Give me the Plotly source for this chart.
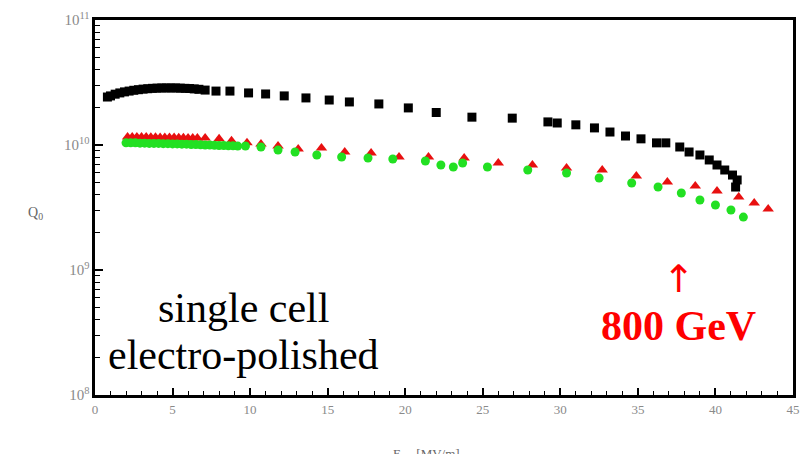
import plotly.graph_objects as go

# Black squares
black_x = [0.8, 1.0, 1.3, 1.6, 1.9, 2.2, 2.5, 2.8, 3.1, 3.4, 3.7, 4.0, 4.3, 4.6, 4.9, 5.2, 5.5, 5.8, 6.1, 6.4, 6.7,
           7.1, 7.8, 8.7, 9.9, 11.0, 12.2, 13.6, 15.1, 16.4, 18.3, 20.2, 22.0, 24.3, 26.9, 29.2, 29.8, 31.0,
           32.2, 33.2, 34.2, 35.2, 36.2, 36.8, 37.7, 38.3, 39.0, 39.6, 40.1, 40.6, 41.1, 41.4, 41.3]
black_y = [2.42e10, 2.47e10, 2.55e10, 2.61e10, 2.66e10, 2.70e10, 2.74e10, 2.77e10, 2.80e10, 2.82e10, 2.84e10,
           2.85e10, 2.86e10, 2.86e10, 2.86e10, 2.86e10, 2.85e10, 2.84e10, 2.83e10, 2.81e10, 2.79e10,
           2.75e10, 2.70e10, 2.70e10, 2.61e10, 2.56e10, 2.47e10, 2.38e10, 2.29e10, 2.21e10, 2.13e10, 1.98e10,
           1.82e10, 1.67e10, 1.64e10, 1.53e10, 1.50e10, 1.45e10, 1.37e10, 1.27e10, 1.18e10, 1.12e10, 1.04e10,
           1.04e10, 0.964e10, 0.879e10, 0.832e10, 0.759e10, 0.692e10, 0.631e10, 0.575e10, 0.525e10, 0.461e10]

# Red triangles
red_x = [2.1, 2.4, 2.7, 3.0, 3.3, 3.6, 3.9, 4.2, 4.5, 4.8, 5.1, 5.4, 5.7, 6.0, 6.3, 6.6,
         7.1, 8.0, 8.8, 9.8, 10.7, 11.8, 13.1, 14.6, 16.1, 17.8, 19.6, 21.5, 23.8, 26.0, 28.2, 30.4,
         32.7, 34.9, 36.9, 38.7, 40.1, 41.5, 42.5, 43.4]
red_y = [1.16e10, 1.16e10, 1.16e10, 1.16e10, 1.16e10, 1.155e10, 1.155e10, 1.15e10, 1.15e10, 1.15e10,
         1.15e10, 1.145e10, 1.145e10, 1.14e10, 1.14e10, 1.14e10,
         1.14e10, 1.12e10, 1.08e10, 1.04e10, 1.02e10, 0.982e10, 0.929e10, 0.946e10, 0.879e10, 0.863e10,
         0.802e10, 0.802e10, 0.787e10, 0.718e10, 0.692e10, 0.655e10, 0.631e10, 0.565e10, 0.506e10,
         0.470e10, 0.429e10, 0.384e10, 0.344e10, 0.308e10]

# Green circles
green_x = [2.0, 2.3, 2.6, 2.9, 3.2, 3.5, 3.8, 4.1, 4.4, 4.7, 5.0, 5.3, 5.6, 5.9, 6.2, 6.5, 6.8, 7.1, 7.4,
           7.7, 8.0, 8.3, 8.6, 8.9, 9.2,
           9.7, 10.7, 11.8, 12.9, 14.3, 15.9, 17.6, 19.2, 21.3, 22.3, 23.1, 23.7, 25.3, 27.9, 30.4, 32.5,
           34.6, 36.3, 37.8, 39.0, 40.0, 41.0, 41.8]
green_y = [1.04e10, 1.04e10, 1.04e10, 1.035e10, 1.035e10, 1.03e10, 1.03e10, 1.03e10, 1.025e10, 1.025e10,
           1.02e10, 1.02e10, 1.015e10, 1.015e10, 1.01e10, 1.01e10, 1.005e10, 1.0e10, 1.0e10, 0.995e10,
           0.99e10, 0.99e10, 0.985e10, 0.985e10, 0.98e10,
           0.982e10, 0.964e10, 0.912e10, 0.879e10, 0.832e10, 0.802e10, 0.787e10, 0.773e10, 0.745e10,
           0.692e10, 0.667e10, 0.718e10, 0.667e10, 0.631e10, 0.597e10, 0.545e10, 0.497e10, 0.461e10,
           0.413e10, 0.363e10, 0.331e10, 0.302e10, 0.265e10]

serif = "Liberation Serif"
gray = "#8a8a8a"

fig = go.Figure()
fig.add_trace(go.Scatter(x=red_x, y=red_y, mode="markers",
                         marker=dict(symbol="triangle-up", size=10, color="#e81010")))
fig.add_trace(go.Scatter(x=green_x, y=green_y, mode="markers",
                         marker=dict(symbol="circle", size=9, color="#22e022")))
fig.add_trace(go.Scatter(x=black_x, y=black_y, mode="markers",
                         marker=dict(symbol="square", size=9, color="#000000")))

fig.update_layout(
    width=807, height=454,
    margin=dict(l=95, r=7, t=20, b=59),
    paper_bgcolor="white", plot_bgcolor="white",
    showlegend=False,
    xaxis=dict(range=[0, 45], tick0=0, dtick=5, ticks="inside", ticklen=7, tickwidth=2, tickcolor="black",
               showline=True, linecolor="black", linewidth=3, mirror=True, showgrid=False, zeroline=False,
               tickfont=dict(family=serif, size=13, color=gray),
               minor=dict(dtick=1, ticks="inside", ticklen=4, tickwidth=1, tickcolor="black", showgrid=False)),
    yaxis=dict(type="log", range=[8, 11], dtick=1, exponentformat="power", ticks="inside", ticklen=8,
               tickwidth=2, tickcolor="black",
               showline=True, linecolor="black", linewidth=3, mirror=True, showgrid=False, zeroline=False,
               tickfont=dict(family=serif, size=12, color=gray),
               minor=dict(dtick="D1", ticks="inside", ticklen=5, tickwidth=1, tickcolor="black", showgrid=False)),
)

fig.add_annotation(text="E<sub>acc</sub> [MV/m]", xref="paper", yref="paper", x=0.475, y=-0.13,
                   yanchor="top", showarrow=False, font=dict(family=serif, size=13, color="#666666"))
fig.add_annotation(text="Q<sub>0</sub>", xref="paper", yref="paper", x=-0.085, y=0.485,
                   xanchor="center", showarrow=False, font=dict(family=serif, size=14, color="#666666"))

fig.add_annotation(text="single cell", xref="x", yref="y", x=9.6, y=8.70, showarrow=False,
                   font=dict(family=serif, size=42, color="black"))
fig.add_annotation(text="electro-polished", xref="x", yref="y", x=9.6, y=8.32, showarrow=False,
                   font=dict(family=serif, size=42, color="black"))
fig.add_annotation(text="<b>800 GeV</b>", xref="x", yref="y", x=37.65, y=8.55, showarrow=False,
                   font=dict(family=serif, size=42, color="#ff0000"))
fig.add_annotation(text="↑", xref="x", yref="y", x=37.65, y=8.93, showarrow=False,
                   font=dict(family="DejaVu Sans", size=38, color="#ff0000"))

fig.write_html("out.html")
